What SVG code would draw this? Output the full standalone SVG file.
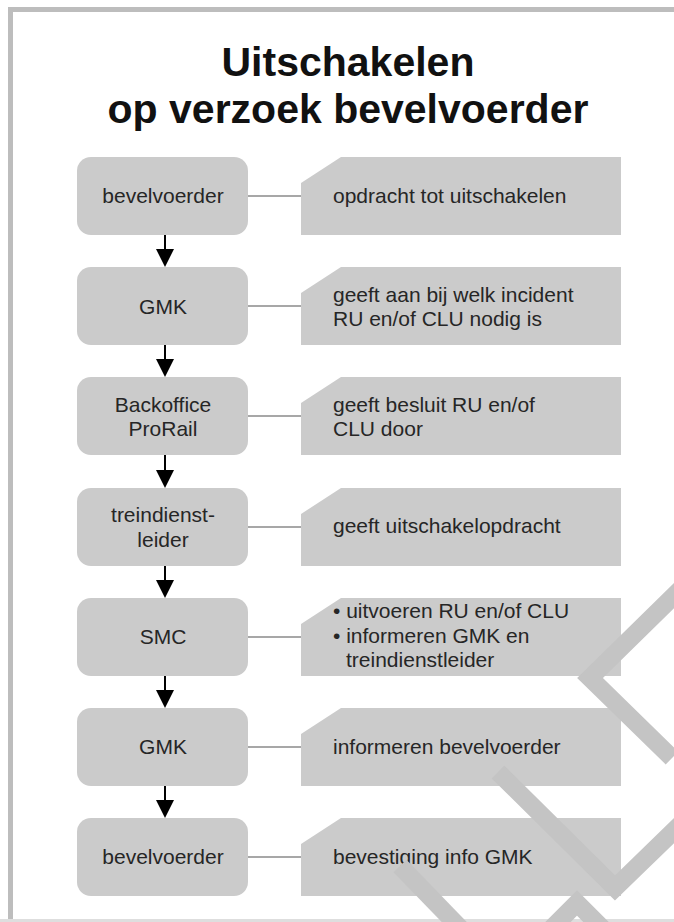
<svg xmlns="http://www.w3.org/2000/svg" width="674" height="922" viewBox="0 0 674 922">
<style>
.frame{fill:none;stroke:#bdbdbd;stroke-width:5}
.title{font-family:"Liberation Sans",Arial,sans-serif;font-weight:bold;font-size:41px;fill:#111;text-anchor:middle}
.lbox{fill:#cbcbcb}
.rbox{fill:#cbcbcb}
.lt{font-family:"Liberation Sans",Arial,sans-serif;font-size:21px;fill:#262626;text-anchor:middle}
.rt{font-family:"Liberation Sans",Arial,sans-serif;font-size:21px;fill:#262626}
.conn{stroke:#8a8a8a;stroke-width:1.5}
.arr{stroke:#000;stroke-width:2}
.wm{fill:none;stroke:#c4c4c4;stroke-width:18;stroke-linejoin:miter}
</style>
<rect x="0" y="0" width="674" height="922" fill="#fff"/>
<path class="frame" d="M10.5,922 V9.5 H674"/>
<line x1="0" y1="920.5" x2="674" y2="920.5" stroke="#dedede" stroke-width="3"/>
<g id="title">
<text class="title" x="348" y="76">Uitschakelen</text>
<text class="title" x="348" y="123">op verzoek bevelvoerder</text>
</g>
<g id="connectors">
<line class="conn" x1="248" y1="196" x2="301" y2="196"/>
<line class="conn" x1="248" y1="306" x2="301" y2="306"/>
<line class="conn" x1="248" y1="416" x2="301" y2="416"/>
<line class="conn" x1="248" y1="527" x2="301" y2="527"/>
<line class="conn" x1="248" y1="637" x2="301" y2="637"/>
<line class="conn" x1="248" y1="747" x2="301" y2="747"/>
<line class="conn" x1="248" y1="857" x2="301" y2="857"/>
<line class="arr" x1="165" y1="235" x2="165" y2="252"/><polygon points="156,249 174,249 165,267"/>
<line class="arr" x1="165" y1="345" x2="165" y2="362"/><polygon points="156,359 174,359 165,377"/>
<line class="arr" x1="165" y1="455" x2="165" y2="473"/><polygon points="156,470 174,470 165,488"/>
<line class="arr" x1="165" y1="566" x2="165" y2="583"/><polygon points="156,580 174,580 165,598"/>
<line class="arr" x1="165" y1="676" x2="165" y2="693"/><polygon points="156,690 174,690 165,708"/>
<line class="arr" x1="165" y1="786" x2="165" y2="803"/><polygon points="156,800 174,800 165,818"/>
</g>
<g id="n1"><rect class="lbox" x="77" y="157" width="171" height="78" rx="14"/><text class="lt" x="163" y="203">bevelvoerder</text></g>
<g id="d1"><path class="rbox" d="M301,183 L341,157 H621 V235 H301 Z"/><text class="rt" x="333" y="203">opdracht tot uitschakelen</text></g>
<g id="n2"><rect class="lbox" x="77" y="267" width="171" height="78" rx="14"/><text class="lt" x="163" y="314">GMK</text></g>
<g id="d2"><path class="rbox" d="M301,293 L341,267 H621 V345 H301 Z"/><text class="rt" x="333" y="302">geeft aan bij welk incident</text><text class="rt" x="333" y="325.5">RU en/of CLU nodig is</text></g>
<g id="n3"><rect class="lbox" x="77" y="377" width="171" height="78" rx="14"/><text class="lt" x="163" y="412">Backoffice</text><text class="lt" x="163" y="436">ProRail</text></g>
<g id="d3"><path class="rbox" d="M301,403 L341,377 H621 V455 H301 Z"/><text class="rt" x="333" y="412">geeft besluit RU en/of</text><text class="rt" x="333" y="436">CLU door</text></g>
<g id="n4"><rect class="lbox" x="77" y="488" width="171" height="78" rx="14"/><text class="lt" x="163" y="522">treindienst-</text><text class="lt" x="163" y="546.5">leider</text></g>
<g id="d4"><path class="rbox" d="M301,514 L341,488 H621 V566 H301 Z"/><text class="rt" x="333" y="533">geeft uitschakelopdracht</text></g>
<g id="n5"><rect class="lbox" x="77" y="598" width="171" height="78" rx="14"/><text class="lt" x="163" y="644">SMC</text></g>
<g id="d5"><path class="rbox" d="M301,624 L341,598 H621 V676 H301 Z"/><text class="rt" x="333" y="618">• uitvoeren RU en/of CLU</text><text class="rt" x="333" y="642.5">• informeren GMK en</text><text class="rt" x="346" y="667">treindienstleider</text></g>
<g id="n6"><rect class="lbox" x="77" y="708" width="171" height="78" rx="14"/><text class="lt" x="163" y="754">GMK</text></g>
<g id="d6"><path class="rbox" d="M301,734 L341,708 H621 V786 H301 Z"/><text class="rt" x="333" y="754">informeren bevelvoerder</text></g>
<g id="n7"><rect class="lbox" x="77" y="818" width="171" height="78" rx="14"/><text class="lt" x="163" y="864">bevelvoerder</text></g>
<g id="d7"><path class="rbox" d="M301,844 L341,818 H621 V896 H301 Z"/><text class="rt" x="333" y="864">bevestiging info GMK</text></g>
<g id="watermark">
<polyline class="wm" points="690,580 590,678 672,758"/>
<polyline class="wm" points="498,772 615,888 690,815"/>
<polyline class="wm" points="400,866 462,930"/>
<polyline class="wm" points="545,935 577,903 609,935"/>
</g>
</svg>
